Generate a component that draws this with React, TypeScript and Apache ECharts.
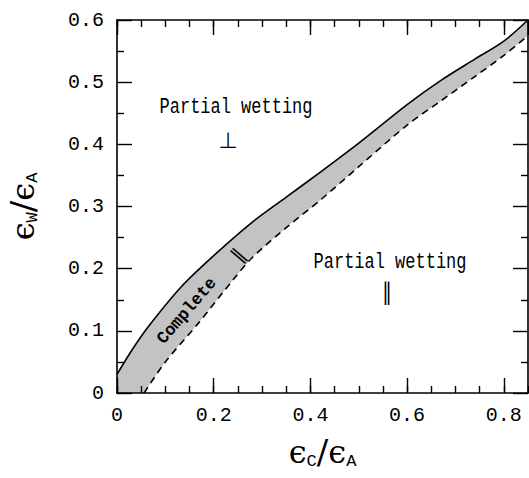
import React, { useEffect, useRef } from "react";
import * as echarts from "echarts";

// Upper boundary (solid line)
const solidX = [0, 0.03, 0.065, 0.133, 0.2, 0.28, 0.35, 0.42, 0.5, 0.6, 0.67, 0.74, 0.8, 0.85];
const solidY = [0.03, 0.068, 0.107, 0.171, 0.221, 0.275, 0.315, 0.355, 0.402, 0.464, 0.503, 0.537, 0.566, 0.6];
// Lower boundary (dashed line)
const dashedX = [0.056, 0.1, 0.168, 0.24, 0.28, 0.35, 0.42, 0.5, 0.6, 0.67, 0.74, 0.8, 0.85];
const dashedY = [0, 0.05, 0.112, 0.182, 0.218, 0.266, 0.31, 0.364, 0.431, 0.47, 0.509, 0.543, 0.575];

const xRange = [0, 0.85];
const yRange = [0, 0.6];

const MONO = '"Liberation Mono", monospace';
const SYM = '"DejaVu Sans", sans-serif';
const GREEK = '"DejaVu Serif", serif';

export default function App() {
  const ref = useRef<HTMLDivElement>(null);
  useEffect(() => {
    if (!ref.current) return;
    const chart = echarts.init(ref.current, undefined, { renderer: "svg" });
    const line = { show: true, onZero: false, lineStyle: { color: "#000", width: 1.6 } };
    const noLine = { show: false, onZero: false };
    const tickStyle = { color: "#000", width: 1.4 };
    const fmt = (v: number) => (Math.abs(v) < 1e-9 ? "0" : String(+v.toFixed(2)));
    const nameRich = {
      e: { fontFamily: GREEK, fontSize: 32, color: "#000", lineHeight: 36, verticalAlign: "middle" },
      s: { fontFamily: GREEK, fontSize: 34, color: "#000", lineHeight: 36, verticalAlign: "middle" },
      sub: { fontFamily: MONO, fontSize: 17, color: "#000", lineHeight: 16, verticalAlign: "bottom" },
    };
    const labelStyle = { fontFamily: MONO, fontSize: 20, color: "#000" };
    const baseX = {
      type: "value" as const,
      min: xRange[0],
      max: xRange[1],
      splitLine: { show: false },
      z: 10,
    };
    const baseY = {
      type: "value" as const,
      min: yRange[0],
      max: yRange[1],
      splitLine: { show: false },
      z: 10,
    };
    chart.setOption({
      animation: false,
      backgroundColor: "#fff",
      grid: { left: 117, right: 1, top: 20, bottom: 85, containLabel: false, outerBoundsMode: "none" },
      xAxis: [
        {
          ...baseX,
          position: "bottom",
          interval: 0.2,
          axisLine: line,
          axisTick: { inside: true, length: 15, lineStyle: tickStyle },
          axisLabel: { ...labelStyle, showMaxLabel: false, margin: 12, formatter: fmt },
          name: "{e|ϵ}{sub|C}{s|/}{e|ϵ}{sub|A}",
          nameLocation: "middle",
          nameGap: 41,
          nameTextStyle: { rich: nameRich },
        },
        {
          ...baseX,
          position: "bottom",
          interval: 0.05,
          axisLine: noLine,
          axisTick: { inside: true, length: 7, lineStyle: tickStyle },
          axisLabel: { show: false },
        },
        {
          ...baseX,
          position: "top",
          interval: 0.2,
          axisLine: line,
          axisTick: { inside: true, length: 15, lineStyle: tickStyle },
          axisLabel: { show: false },
        },
        {
          ...baseX,
          position: "top",
          interval: 0.05,
          axisLine: noLine,
          axisTick: { inside: true, length: 7, lineStyle: tickStyle },
          axisLabel: { show: false },
        },
      ],
      yAxis: [
        {
          ...baseY,
          position: "left",
          interval: 0.1,
          axisLine: line,
          axisTick: { inside: true, length: 15, lineStyle: tickStyle },
          minorTick: { show: true, splitNumber: 2, length: 7, lineStyle: tickStyle },
          axisLabel: { ...labelStyle, margin: 13, formatter: fmt },
          name: "{e|ϵ}{sub|W}{s|/}{e|ϵ}{sub|A}",
          nameLocation: "middle",
          nameGap: 76,
          nameTextStyle: { rich: nameRich },
        },
        {
          ...baseY,
          position: "right",
          interval: 0.1,
          axisLine: line,
          axisTick: { inside: true, length: 15, lineStyle: tickStyle },
          minorTick: { show: true, splitNumber: 2, length: 7, lineStyle: tickStyle },
          axisLabel: { show: false },
        },
      ],
      series: [
        {
          type: "line",
          xAxisIndex: 0,
          yAxisIndex: 0,
          data: solidX.map((x, i) => [x, solidY[i]]),
          smooth: 0.3,
          symbol: "none",
          lineStyle: { color: "#000", width: 1.6 },
          areaStyle: { color: "#c3c3c3", opacity: 1, origin: "start" },
          z: 2,
        },
        {
          type: "line",
          xAxisIndex: 0,
          yAxisIndex: 0,
          data: dashedX.map((x, i) => [x, dashedY[i]]),
          smooth: 0.3,
          symbol: "none",
          lineStyle: { color: "#000", width: 1.6, type: [7, 5] },
          areaStyle: { color: "#fff", opacity: 1, origin: "start" },
          z: 3,
        },
      ],
      graphic: [
        {
          type: "text",
          x: 236,
          y: 107,
          scaleY: 1.3,
          z: 50,
          style: { text: "Partial wetting", font: `17px ${MONO}`, fill: "#000", textAlign: "center", textVerticalAlign: "middle" },
        },
        {
          type: "text",
          x: 228,
          y: 140,
          z: 50,
          style: { text: "⊥", font: `22px ${SYM}`, fill: "#000", textAlign: "center", textVerticalAlign: "middle" },
        },
        {
          type: "text",
          x: 390,
          y: 262,
          scaleY: 1.3,
          z: 50,
          style: { text: "Partial wetting", font: `17px ${MONO}`, fill: "#000", textAlign: "center", textVerticalAlign: "middle" },
        },
        {
          type: "text",
          x: 387,
          y: 291,
          scaleY: 1.2,
          z: 50,
          style: { text: "∥", font: `20px ${SYM}`, fill: "#000", textAlign: "center", textVerticalAlign: "middle" },
        },
        {
          type: "text",
          x: 187,
          y: 311,
          rotation: 0.86,
          z: 50,
          style: { text: "Complete", font: `bold 17px ${MONO}`, fill: "#000", textAlign: "center", textVerticalAlign: "middle" },
        },
        {
          type: "text",
          x: 238,
          y: 255,
          rotation: 0.86,
          z: 50,
          style: { text: "∥", font: `20px ${SYM}`, fill: "#000", textAlign: "center", textVerticalAlign: "middle" },
        },
      ],
    });
    return () => chart.dispose();
  }, []);
  return <div ref={ref} style={{ width: 529, height: 478, position: "absolute", left: 0, top: 0 }} />;
}
